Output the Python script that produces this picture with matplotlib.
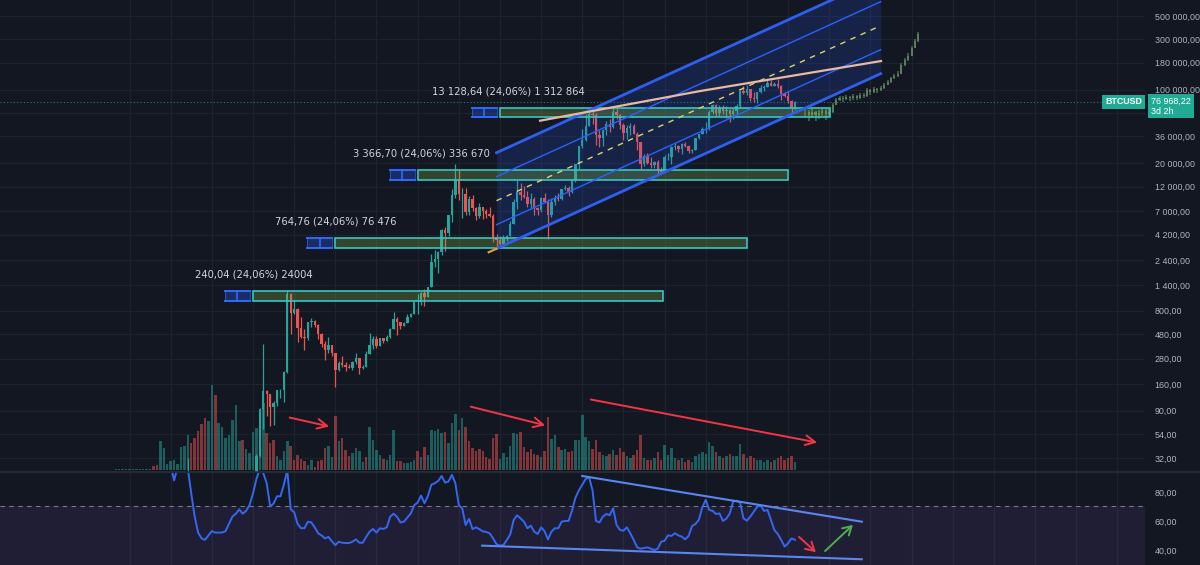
import numpy as np
import matplotlib.pyplot as plt
from matplotlib.patches import Rectangle
from matplotlib.ticker import FixedLocator, FixedFormatter, NullLocator
from matplotlib.transforms import blended_transform_factory

plt.rcParams['font.family'] = ['DejaVu Sans']

# ---- monthly candles, index 0 = Sep 2009 ----
closes = [
    0.0008, 0.0009, 0.001, 0.001,
    0.0015, 0.002, 0.003, 0.004, 0.005, 0.008, 0.07, 0.06, 0.06, 0.19, 0.21, 0.30,
    0.52, 0.86, 0.78, 3.5, 8.7, 16.1, 13.4, 8.2, 5.1, 3.25, 2.97, 4.72,
    5.5, 4.9, 4.9, 5.0, 5.2, 6.7, 9.35, 10.2, 12.4, 11.2, 12.6, 13.5,
    20.4, 33.4, 93, 139, 129, 97, 106, 141, 141, 211, 1150, 757,
    830, 550, 450, 445, 630, 640, 585, 480, 387, 338, 378, 320,
    217, 254, 244, 236, 230, 263, 284, 230, 236, 314, 377, 430,
    369, 437, 416, 448, 531, 673, 624, 575, 609, 700, 742, 963,
    970, 1190, 1080, 1350, 2300, 2480, 2875, 4700, 4340, 6450, 10000, 13860,
    10200, 10300, 6930, 9240, 7500, 6400, 7730, 7030, 6630, 6320, 4020, 3740,
    3460, 3820, 4100, 5320, 8560, 10800, 10080, 9600, 8300, 9200, 7560, 7200,
    9350, 8550, 6420, 8620, 9450, 9140, 11350, 11650, 10780, 13800, 19700, 28990,
    33100, 45200, 58800, 57700, 37300, 35040, 41500, 47100, 43800, 61300, 57000, 46300,
    38500, 43200, 45500, 37700, 31800, 19900, 23300, 20050, 19400, 20500, 17200, 16550,
    23100, 23150, 28500, 29250, 27200, 30500, 29250, 26000, 27000, 34500, 37700, 42300,
    42600, 61200, 71300, 60700, 67500, 62700, 64600, 59000, 63300, 70300, 96400, 93400,
    102400, 84300, 82500, 94200, 104600, 107100, 115700, 108200, 114000, 109500, 90400, 87500,
    78500, 67000, 76968.22,
]
highs = [
    0.0009, 0.001, 0.0012, 0.0012,
    0.002, 0.0025, 0.0035, 0.0045, 0.006, 0.009, 0.1, 0.07, 0.07, 0.2, 0.5, 0.31,
    0.95, 1.1, 0.93, 4.0, 9.0, 31.9, 17.5, 14.0, 8.6, 5.2, 3.9, 4.8,
    7.4, 6.2, 5.4, 5.3, 5.4, 6.7, 9.6, 16.4, 12.9, 12.4, 12.7, 13.8,
    21, 35, 95, 390, 140, 130, 111, 142, 146, 212, 1240, 1180,
    1000, 850, 700, 540, 630, 680, 660, 600, 490, 410, 450, 380,
    320, 265, 300, 261, 247, 268, 315, 285, 245, 334, 495, 465,
    460, 440, 439, 466, 548, 780, 704, 630, 629, 739, 757, 975,
    1150, 1210, 1280, 1350, 2760, 2990, 2930, 4750, 4980, 6470, 11400, 19800,
    17250, 11800, 11700, 9760, 9990, 7780, 8500, 7760, 7410, 7680, 6570, 4310,
    4110, 4200, 4140, 5620, 9090, 13880, 13140, 12330, 10900, 10370, 9520, 7740,
    9580, 10500, 9190, 9470, 10070, 10400, 11450, 12490, 12080, 14090, 19900, 29300,
    41950, 58350, 61790, 64900, 59600, 41300, 42400, 50500, 52900, 67000, 69000, 59100,
    47990, 45800, 48200, 47450, 40000, 31900, 24670, 25200, 22800, 21000, 21450, 18400,
    23960, 25250, 29200, 31000, 29800, 31400, 31800, 30000, 27500, 35000, 38400, 44700,
    48900, 64000, 73800, 72800, 71950, 71900, 70000, 65100, 66500, 73600, 99800, 108300,
    109600, 102500, 95000, 95800, 111900, 110500, 123200, 124400, 117900, 126200, 111000, 94600,
    97000, 79500, 78000,
]
lows = [
    0.0007, 0.0008, 0.0009, 0.0009,
    0.0012, 0.0018, 0.0025, 0.0035, 0.0045, 0.005, 0.008, 0.05, 0.05, 0.06, 0.14, 0.2,
    0.3, 0.5, 0.68, 0.78, 3.0, 7.0, 12.0, 7.1, 4.5, 2.1, 2.0, 2.9,
    4.2, 4.2, 4.6, 4.8, 4.9, 5.2, 6.6, 7.1, 9.8, 9.6, 10.6, 12.2,
    13.2, 19.5, 33, 60, 80, 65, 66, 100, 120, 110, 205, 480,
    750, 400, 440, 340, 420, 560, 565, 430, 360, 275, 320, 300,
    152, 212, 235, 215, 228, 221, 252, 199, 226, 236, 308, 350,
    352, 366, 392, 415, 441, 531, 474, 535, 570, 605, 695, 740,
    750, 915, 890, 1070, 1350, 2080, 1830, 2700, 2970, 4100, 5560, 9400,
    9000, 6000, 6430, 6450, 7030, 5780, 6070, 5880, 6110, 6150, 3550, 3150,
    3350, 3400, 3690, 4080, 5320, 7450, 9070, 9340, 7720, 7300, 6520, 6430,
    6870, 8450, 3850, 6150, 8100, 8840, 9000, 11150, 9870, 10530, 13200, 17600,
    28130, 32300, 44950, 47000, 30000, 28800, 29300, 37300, 39600, 43300, 53250, 42000,
    33000, 34300, 37200, 37600, 26700, 17600, 18800, 19600, 18200, 18200, 15500, 16250,
    16500, 21400, 19600, 26950, 25800, 24800, 28900, 25300, 24900, 26600, 34100, 37600,
    38500, 41900, 59100, 56500, 56550, 58400, 53500, 49000, 52550, 58900, 66800, 91500,
    89200, 78200, 76600, 74500, 93400, 98200, 105100, 107300, 107300, 103500, 80600, 84400,
    74500, 60000, 64000,
]

# volume bars (height) and their colour, g = up, r = down
volumes = [
    1, 1, 1, 1, 1, 1, 1, 1, 1, 1, 1,
    4, 5, 29, 22, 6, 9, 10, 6, 23, 24,
    35, 27, 32, 39, 46, 52, 49, 85, 75, 47,
    43, 32, 35, 50, 65, 29, 30, 21, 17, 38,
    42, 60, 67, 37, 27, 30, 14, 10, 19, 29,
    24, 10, 15, 11, 9, 5, 10, 3, 9, 10,
    22, 24, 13, 54, 29, 32, 20, 14, 17, 22,
    19, 8, 13, 43, 30, 20, 15, 11, 10, 15,
    40, 9, 9, 7, 7, 8, 10, 19, 13, 23,
    15, 40, 39, 41, 37, 38, 27, 47, 56, 40,
    52, 43, 29, 22, 19, 21, 19, 13, 11, 32,
    36, 11, 17, 13, 24, 37, 36, 38, 23, 18,
    21, 16, 15, 13, 19, 53, 31, 35, 23, 20,
    21, 18, 19, 30, 30, 55, 33, 29, 21, 30,
    18, 15, 14, 16, 20, 15, 22, 18, 14, 12,
    15, 20, 35, 12, 10, 10, 12, 18, 10, 25,
    15, 22, 12, 10, 12, 8, 10, 8, 14, 16,
    18, 16, 28, 24, 18, 14, 12, 14, 16, 14,
    14, 26, 16, 12, 14, 12, 10, 10, 8, 10,
    8, 10, 12, 14, 10, 12, 14, 8,
]
vol_dir = ("ggggggggggg" "rrgggggggg" "grrrrrggrg" "ggggggrggg" "gggrrrgggg"
           "rrrrrggrrr" "rggrgrrrgg" "ggrggggrgg" "grrggggrgr" "gggggrgggr"
           "grrrrrrrrr" "rggggggrrr" "rrrgrrggrg" "grrgggggrr" "rggrgrrrgg"
           "rrrgrrgrrg" "gggrgrrggg" "ggggrgrgrg" "ggrgrrgggg" "rgrrrrrg")

# RSI(14), starts at index 16
rsi_start = 16
rsi = [
    98, 88, 97, 99, 99, 96, 79, 63, 52, 48,
    47, 50, 53, 52, 52, 52, 53, 58, 63, 65,
    68, 65, 67, 71, 79, 89, 96, 93, 86, 70,
    72, 77, 77, 85, 95, 68, 66, 58, 55, 55,
    59.5, 59, 55.6, 51.5, 50, 48, 49, 46, 43.4, 45.7,
    45, 44.8, 44.8, 45.7, 47.3, 45, 45, 49, 52.6, 54.5,
    52, 55, 54.5, 55.6, 63, 65, 62.8, 59, 59.5, 62.3,
    65.2, 70.8, 72.7, 77.5, 72.2, 77.2, 85, 86, 87.6, 91,
    86.4, 87.2, 91.8, 86, 71, 68.7, 57.2, 61.4, 54.4, 55.6,
    54.4, 52.8, 52.4, 51.5, 48, 44, 43, 43.4, 46.9, 50.8,
    60.7, 63.9, 61.8, 59.5, 55, 56.8, 52.6, 51, 55.6, 53,
    47.3, 52.6, 55, 55, 59.5, 60, 60, 67, 76, 81,
    85, 89, 90, 81, 60, 59, 63, 64.8, 64, 68.7,
    57.2, 53.8, 53.3, 55.6, 51.5, 46.9, 41.8, 40.9, 41.4, 41.8,
    40.9, 40, 40.9, 45.7, 46.4, 50.1, 49.7, 51.5, 50.1, 49.2,
    47.3, 49.7, 56.5, 57.9, 60.9, 69.4, 74.5, 67.6, 67, 64.8,
    65.2, 60, 61.6, 65.2, 73.3, 74, 72.7, 61.8, 60.2, 63,
    66.4, 69.8, 70.8, 66.9, 67.6, 60.7, 53.8, 51, 46.9, 42.3,
    44.6, 48, 47,
]

# projected (ghost) bars after the last candle
ghost_start = 201
ghost_close = [62000, 58000, 61000, 57000, 60000, 63000, 59000, 62000, 72000, 80000,
               84000, 82000, 86000, 83000, 87000, 84000, 90000, 88000, 100000, 95000,
               101000, 99000, 104000, 112000, 118000, 128000, 135000, 142000, 170000, 190000,
               210000, 250000, 290000, 340000]
ghost_high = [68000, 64000, 65000, 63000, 64000, 67000, 65000, 66000, 75000, 83000,
              88000, 87000, 90000, 88000, 91000, 89000, 94000, 93000, 104000, 102000,
              106000, 104000, 108000, 116000, 123000, 133000, 140000, 150000, 178000, 198000,
              222000, 262000, 305000, 355000]
ghost_low = [55000, 50000, 54000, 50000, 53000, 56000, 52000, 55000, 60000, 71000,
             78000, 77000, 79000, 78000, 80000, 79000, 82000, 83000, 86000, 90000,
             93000, 93000, 97000, 102000, 110000, 116000, 126000, 132000, 140000, 168000,
             188000, 208000, 246000, 286000]

# zones: base price, height, start/end index, label
box_base = [997.70, 3178.6, 13993.0, 54566.0]
box_size = [240.04, 764.76, 3366.70, 13128.64]
box_start = [40, 64, 88, 112]
box_end = [159.5, 184, 196, 208.2]
box_text_x = [23.1, 46.4, 69.1, 92.2]
box_text = ["240,04 (24,06%) 24004", "764,76 (24,06%) 76 476",
            "3 366,70 (24,06%) 336 670", "13 128,64 (24,06%) 1 312 864"]

# regression channel (index, mid price), band step in decades
chan_x = [111, 223]
chan_mid = [8850, 405000]
chan_step = 0.2277
tan_x = [123.7, 170.3, 223.1]
tan_y = [50800, 97000, 187000]

# RSI trend lines and arrows (index, rsi)
rsi_top = ([136.0, 217.5], [91, 59.5])
rsi_bot = ([106.8, 217.5], [43, 33.6])
rsi_red = ((198.6, 50.3), (204.7, 37.2))
rsi_green = ((206.2, 38), (215.5, 58.6))
vol_arrows = [((49.9, 53), (63.0, 43)), ((102.7, 64), (126.0, 44)), ((137.7, 71), (205.3, 27))]

price_ticks = [500000, 300000, 180000, 100000, 60000, 36000, 20000, 12000, 7000, 4200,
               2400, 1400, 800, 480, 280, 160, 90, 54, 32]
price_labels = ["500 000,00", "300 000,00", "180 000,00", "100 000,00", "", "36 000,00",
                "20 000,00", "12 000,00", "7 000,00", "4 200,00", "2 400,00", "1 400,00",
                "800,00", "480,00", "280,00", "160,00", "90,00", "54,00", "32,00"]
rsi_ticks = [80, 60, 40]
rsi_labels = ["80,00", "60,00", "40,00"]

BG = '#131722'
GRID = '#1e222d'
UP = '#26a69a'
DOWN = '#ef5350'
TXT = '#b2b5be'
AXFONT = ['Liberation Sans', 'DejaVu Sans']

closes = np.array(closes, dtype=float)
highs = np.array(highs, dtype=float)
lows = np.array(lows, dtype=float)
idx = np.arange(len(closes))
opens = np.r_[closes[0], closes[:-1]]

fig = plt.figure(figsize=(12, 5.65), dpi=100, facecolor=BG)
W = 1145 / 1200
ax = fig.add_axes([0, 93.5 / 565, W, 471.5 / 565])
axv = ax.twinx()
axr = fig.add_axes([0, 0, W, 92.5 / 565], sharex=ax)

ax.set_zorder(axv.get_zorder() + 1)
ax.patch.set_visible(False)
axv.set_facecolor(BG)
axr.set_facecolor(BG)

ax.set_yscale('log')
ax.set_xlim(-33.76, 300.06)
ax.set_ylim(23.85, 709600)
axv.set_ylim(-1.5, 470)
axr.set_ylim(29.66, 93.4)

# grid (drawn on the back axes)
years = np.arange(4, 300, 12)
for x in years:
    axv.axvline(x, color=GRID, lw=0.9, zorder=0)
    axr.axvline(x, color=GRID, lw=0.9, zorder=0)
blend = blended_transform_factory(axv.transAxes, ax.transData)
for p in price_ticks:
    axv.plot([0, 1], [p, p], color=GRID, lw=0.9, transform=blend, zorder=0)

# volume
vcol = [UP if d == 'g' else DOWN for d in vol_dir]
axv.bar(idx, volumes, width=0.72, color=vcol, alpha=0.5, linewidth=0, zorder=1)
for s, e in vol_arrows:
    axv.annotate('', xy=e, xytext=s,
                 arrowprops=dict(arrowstyle='->,head_length=0.7,head_width=0.35',
                                 color='#f23645', lw=1.4))

# candles
up = closes >= opens
ccol = np.where(up, UP, DOWN)
ax.vlines(idx, lows, highs, colors=ccol, lw=0.9, zorder=3)
ax.bar(idx, np.abs(closes - opens), bottom=np.minimum(opens, closes), width=0.7,
       color=ccol, linewidth=0, zorder=3)

# ghost projection
gx = np.arange(ghost_start, ghost_start + len(ghost_close))
gc = np.array(ghost_close, dtype=float)
go = np.r_[gc[0], gc[:-1]]
ax.vlines(gx, ghost_low, ghost_high, colors='#4e6b52', lw=1.1, zorder=3)
ax.bar(gx, np.abs(gc - go), bottom=np.minimum(go, gc), width=0.6, color='#5b7d5f',
       linewidth=0, zorder=3)

# regression channel
cx = np.array(chan_x, dtype=float)
mid = np.log10(chan_mid)
ax.fill_between(cx, 10 ** (mid - 2 * chan_step), 10 ** (mid + 2 * chan_step),
                color='#2962ff', alpha=0.17, linewidth=0, zorder=4)
for k in (-2, 2):
    ax.plot(cx, 10 ** (mid + k * chan_step), color='#2e5ff0', lw=2.0, zorder=6)
for k in (-1, 1):
    ax.plot(cx, 10 ** (mid + k * chan_step), color='#2962ff', lw=1.0, zorder=6)
ax.plot(cx, 10 ** mid, color='#d8d86a', lw=1.0, ls=(0, (4, 4)), zorder=6)
slope = (mid[1] - mid[0]) / (cx[1] - cx[0])
lead = np.array([cx[0] - 2.3, cx[0]])
ax.plot(lead, 10 ** (mid[0] - 2 * chan_step + slope * (lead - cx[0])),
        color='#f0a030', lw=1.5, zorder=6)
ax.plot(tan_x, tan_y, color='#e9b9a0', lw=1.6, zorder=6)

# zones
for b, h, x0, x1, tx, t in zip(box_base, box_size, box_start, box_end, box_text_x, box_text):
    top = b + h
    ax.add_patch(Rectangle((x0, b), x1 - x0, h, facecolor='#8bc34a', alpha=0.27,
                           edgecolor='none', zorder=5))
    ax.add_patch(Rectangle((x0, b), x1 - x0, h, facecolor='none',
                           edgecolor='#36c6c2', lw=1.2, zorder=5))
    m0, m1 = x0 - 8.2, x0 - 0.9
    ax.add_patch(Rectangle((m0, b), m1 - m0, h, facecolor='#2962ff', alpha=0.3,
                           edgecolor='none', zorder=5))
    ax.plot([m0, m1], [top, top], color='#2f6bff', lw=1.4, zorder=6)
    ax.plot([m0, m1], [b, b], color='#2f6bff', lw=1.4, zorder=6)
    ax.plot([(m0 + m1) / 2] * 2, [b, top], color='#2f6bff', lw=1.2, zorder=6)
    ax.plot([m0, m0], [b, top], color='#2f6bff', lw=0.8, alpha=0.6, zorder=6)
    ax.plot([m1, m1], [b, top], color='#2f6bff', lw=0.8, alpha=0.6, zorder=6)
    ax.annotate(t, xy=(tx, top), xytext=(0, 16), textcoords='offset pixels',
                ha='left', va='center', fontsize=7.2, color='#d1d4dc', zorder=7)

# last price line and tags
last = closes[-1]
ax.axhline(last, xmax=1108 / 1145, color='#22ab94', lw=0.8, ls=(0, (1, 2)), alpha=0.7, zorder=2)
ax.annotate("BTCUSD", xy=(1.0, last), xycoords=('axes fraction', 'data'),
            xytext=(-3, 0), textcoords='offset pixels', ha='right', va='center',
            fontsize=6.4, fontweight='bold', color='white', zorder=10, family=AXFONT,
            bbox=dict(boxstyle='square,pad=0.3', fc='#22ab94', ec='none'))
ax.annotate("76 968,22\n3d 2h", xy=(1.0, last), xycoords=('axes fraction', 'data'),
            xytext=(6, 5), textcoords='offset pixels', ha='left', va='top',
            fontsize=6.4, color='white', linespacing=1.15, zorder=10, annotation_clip=False,
            family=AXFONT,
            bbox=dict(boxstyle='square,pad=0.3', fc='#22ab94', ec='none'))

# RSI pane
axr.axhspan(30, 70, color='#7e57c2', alpha=0.12, lw=0, zorder=0)
axr.axhline(70, color='#787b86', lw=0.8, ls=(0, (4, 4)), zorder=1)
rx = np.arange(rsi_start, rsi_start + len(rsi))
axr.plot(rx, rsi, color='#3567f2', lw=1.4, zorder=3)
axr.plot(*rsi_top, color='#5a86f0', lw=1.5, zorder=4)
axr.plot(*rsi_bot, color='#5a86f0', lw=1.5, zorder=4)
axr.annotate('', xy=rsi_red[1], xytext=rsi_red[0],
             arrowprops=dict(arrowstyle='->,head_length=0.6,head_width=0.35',
                             color='#f23645', lw=1.4))
axr.annotate('', xy=rsi_green[1], xytext=rsi_green[0],
             arrowprops=dict(arrowstyle='->,head_length=0.6,head_width=0.35',
                             color='#4caf50', lw=1.4))

# axes cosmetics
ax.yaxis.tick_right()
ax.yaxis.set_major_locator(FixedLocator(price_ticks))
ax.yaxis.set_major_formatter(FixedFormatter(price_labels))
ax.yaxis.set_minor_locator(NullLocator())
axr.yaxis.tick_right()
axr.set_yticks(rsi_ticks)
axr.set_yticklabels(rsi_labels)
for a in (ax, axr):
    a.tick_params(axis='y', length=0, pad=7, labelsize=6.4, labelcolor=TXT)
    a.tick_params(axis='x', length=0, labelbottom=False)
    for lab in a.get_yticklabels():
        lab.set_family(AXFONT)
axv.set_yticks([])
ax.set_xticks([])
for a in (ax, axv, axr):
    for s in a.spines.values():
        s.set_visible(False)

fig.add_artist(plt.Line2D([0, 1], [93 / 565, 93 / 565], color='#2a2e39', lw=1.2))

fig.savefig('out.png', dpi=100, facecolor=BG)
